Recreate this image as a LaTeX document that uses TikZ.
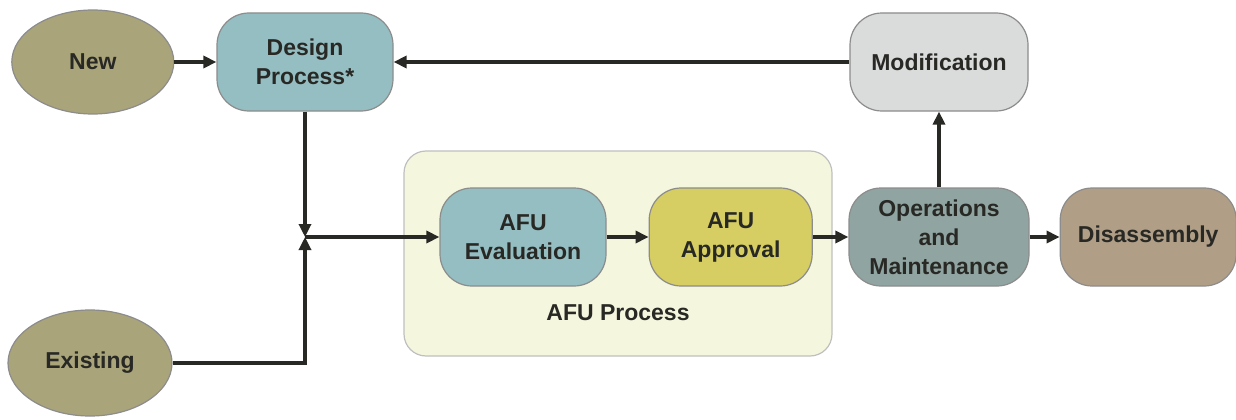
\documentclass[tikz,border=0pt]{standalone}
\usepackage{fontspec}
\setmainfont{Liberation Sans}
\usepackage{tikz}
\usetikzlibrary{shapes.geometric, arrows.meta, positioning, calc}
\definecolor{olivefill}{RGB}{170,164,122}
\definecolor{tealfill}{RGB}{148,190,194}
\definecolor{greyfill}{RGB}{218,219,219}
\definecolor{yellowfill}{RGB}{214,206,98}
\definecolor{opsfill}{RGB}{144,164,161}
\definecolor{tanfill}{RGB}{176,158,134}
\definecolor{groupfill}{RGB}{245,246,222}
\definecolor{textdark}{RGB}{40,40,36}
\tikzset{
    stage/.style={rectangle, rounded corners=32pt, draw=black!45, line width=1.2pt, minimum height=98pt, minimum width=170pt, align=center, text=textdark, font=\fontsize{23}{29}\selectfont\bfseries},
    source/.style={ellipse, draw=black!45, line width=1.2pt, fill=olivefill, minimum height=104pt, minimum width=162pt, text=textdark, font=\fontsize{23}{29}\selectfont\bfseries},
    groupbox/.style={rectangle, rounded corners=22pt, draw=black!25, line width=1.2pt, fill=groupfill, minimum width=428pt, minimum height=205pt},
    grouplabel/.style={text=textdark, font=\fontsize{23}{29}\selectfont\bfseries},
    flow/.style={-{Triangle[length=13pt, width=12pt]}, line width=3.2pt, draw=textdark},
}
\begin{document}
\begin{tikzpicture}[x=1pt, y=-1pt]
        \useasboundingbox (0,0) rectangle (1236,420);

        % AFU group
        \node[groupbox] (afubox) at (618,253.5) {};
        \node[grouplabel] (afulabel) at (618,313) {AFU Process};

        % Top row
        \node[stage, fill=tealfill, minimum width=176pt] (design) at (305,62) {Design\\Process*};
        \node[source, left=42pt of design] (new) {New};
        \node[stage, fill=greyfill, minimum width=178pt] (modif) at (939,62) {Modification};

        % Middle row
        \node[stage, fill=tealfill, minimum width=166pt] (eval) at (523,237) {AFU\\Evaluation};
        \node[stage, fill=yellowfill, minimum width=163pt, right=42pt of eval] (appr) {AFU\\Approval};
        \node[stage, fill=opsfill, minimum width=180pt] (ops) at (939,237) {Operations\\and\\Maintenance};
        \node[stage, fill=tanfill, minimum width=176pt, right=30pt of ops] (disas) {Disassembly};

        % Bottom
        \node[source, minimum width=164pt, minimum height=106pt] (existing) at (90,363) {Existing};

        \coordinate (junc) at (design.south |- eval.west);

        % Arrows
        \draw[flow] (new) -- (design);
        \draw[flow] (modif) -- (design);
        \draw[flow] (design) -- (junc);
        \draw[flow] (existing) -| (junc);
        \draw[flow] (junc) -- (eval);
        \draw[flow] (eval) -- (appr);
        \draw[flow] (appr) -- (ops);
        \draw[flow] (ops) -- (disas);
        \draw[flow] (ops) -- (modif);
    \end{tikzpicture}
\end{document}
